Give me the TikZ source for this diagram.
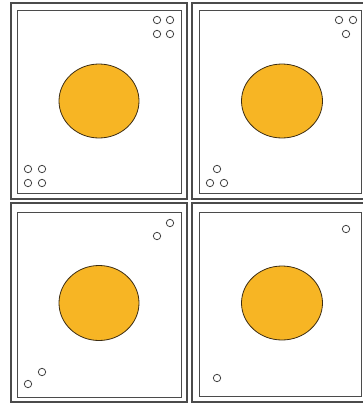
\documentclass[tikz,border=0pt]{standalone}
\definecolor{sun}{RGB}{247,181,36}
\definecolor{edge}{RGB}{75,75,75}
\definecolor{rim}{RGB}{60,45,20}
\begin{document}
\begin{tikzpicture}[x=1pt,y=-1pt,
  frame/.style={draw=edge,line width=1.4pt},
  pad/.style={draw=edge,line width=1pt},
  core/.style={draw=rim,line width=0.8pt,fill=sun},
  hole/.style={draw=black!75,line width=0.8pt,fill=white}]
\useasboundingbox (0,0) rectangle (363,405);
\clip (0,0) rectangle (363,405);
% frames
\draw[frame] (11,3) rectangle (187,199);
\draw[pad] (17.5,10) rectangle (181,193);
\draw[frame] (192,3) rectangle (370,199);
\draw[pad] (199,10) rectangle (361,193);
\draw[frame] (11,203) rectangle (187,402);
\draw[pad] (17.5,212) rectangle (181,397);
\draw[frame] (192,203) rectangle (370,402);
\draw[pad] (199,212) rectangle (361,396);
% cores
\draw[core] (99,101) ellipse (40 and 37);
\draw[core] (282,101) ellipse (40.5 and 37);
\draw[core] (99,303) ellipse (40 and 37.5);
\draw[core] (282,303) ellipse (40.5 and 37);
% holes
\foreach \hx/\hy in {157/20,170/20,157/34,170/34,28/169,42/169,28/183,42/183,
  339/20,353/20,346/34,217/169,210/183,224/183,
  170/223,157/236,42/372,28/384,
  346/229,217/378}
  \draw[hole] (\hx,\hy) circle (3.7);
\end{tikzpicture}
\end{document}
